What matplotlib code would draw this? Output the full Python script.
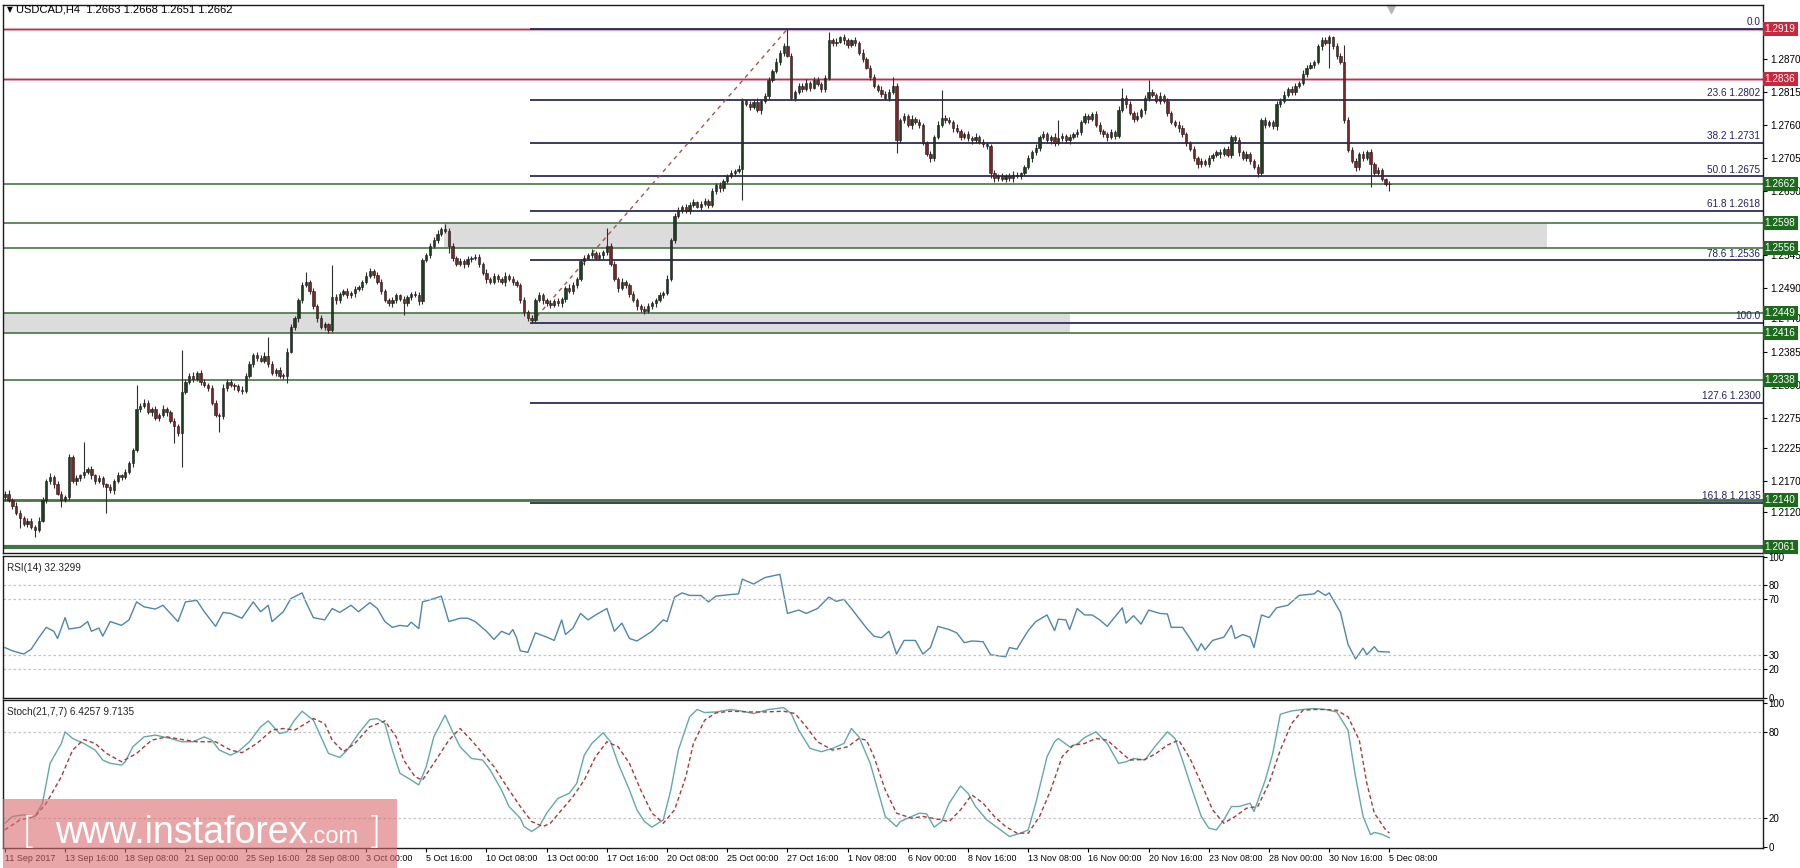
import numpy as np
import matplotlib.pyplot as plt
from matplotlib.patches import Rectangle
from matplotlib.transforms import blended_transform_factory

plt.rcParams['font.family'] = ['Liberation Sans', 'DejaVu Sans']

# === Price data (H4 closes, in pips above 1.2000) ===
first_open = 145
closes = [
    150, 140, 130, 118, 110, 100, 105, 95, 90, 105, 140, 170, 178, 165, 150, 140, 145, 210, 170, 175,
    180, 185, 190, 180, 170, 175, 165, 160, 155, 170, 180, 178, 185, 200, 222, 290, 295, 300, 285, 290,
    275, 280, 290, 285, 270, 262, 250, 318, 335, 345, 340, 350, 335, 330, 325, 300, 280, 278, 325, 335,
    330, 328, 322, 320, 345, 365, 380, 375, 370, 378, 365, 350, 355, 345, 345, 385, 425, 440, 470, 495,
    500, 485, 460, 440, 425, 430, 420, 475, 470, 480, 485, 478, 482, 488, 492, 500, 510, 518, 512, 500,
    485, 470, 465, 470, 478, 472, 465, 475, 480, 478, 468, 536, 545, 560, 570, 580, 588, 585, 560, 540,
    530, 535, 530, 538, 540, 542, 530, 515, 505, 500, 510, 505, 500, 510, 505, 500, 495, 470, 450, 440,
    438, 470, 478, 470, 465, 462, 468, 465, 472, 490, 485, 495, 505, 535, 540, 545, 548, 540, 545, 550,
    560, 530, 505, 490, 500, 495, 480, 470, 460, 455, 452, 460, 465, 470, 478, 482, 505, 570, 610, 620,
    625, 618, 628, 632, 625, 630, 635, 628, 650, 660, 655, 668, 675, 680, 684, 688, 800, 795, 790, 798,
    785, 800, 808, 835, 850, 865, 880, 890, 875, 805, 815, 825, 820, 830, 822, 835, 828, 820, 838, 900,
    895, 898, 905, 900, 892, 900, 895, 880, 870, 855, 840, 825, 818, 812, 805, 815, 825, 735, 768, 775,
    760, 770, 765, 760, 730, 712, 705, 740, 760, 772, 768, 765, 755, 750, 740, 745, 738, 735, 740, 732,
    728, 725, 680, 672, 675, 670, 676, 672, 678, 675, 680, 690, 705, 715, 722, 740, 745, 735, 740, 730,
    738, 742, 735, 740, 745, 748, 765, 775, 770, 778, 760, 750, 745, 740, 748, 742, 785, 805, 795, 780,
    770, 775, 785, 805, 815, 810, 800, 808, 800, 780, 765, 760, 755, 745, 730, 720, 705, 695, 700, 695,
    705, 710, 715, 712, 720, 710, 740, 735, 715, 705, 712, 700, 690, 680, 768, 760, 765, 758, 795, 800,
    810, 820, 815, 825, 830, 845, 855, 860, 865, 890, 900, 895, 905, 890, 875, 864, 768, 719, 700, 690,
    712, 705, 715, 695, 680, 685, 670, 663, 662,
]
wick_up = [
    4, 5, 3, 6, 4, 3, 5, 4, 3, 6, 5, 4, 6, 3, 5, 4, 3, 6, 4, 5,
    3, 50, 4, 5, 3, 6, 4, 3, 5, 4, 6, 3, 5, 4, 3, 40, 5, 6, 4, 3,
    5, 4, 6, 3, 4, 5, 3, 69, 5, 4, 6, 3, 5, 4, 3, 4, 5, 3, 6, 4,
    5, 3, 4, 6, 5, 4, 3, 5, 4, 6, 31, 4, 3, 5, 4, 6, 5, 4, 3, 5,
    17, 4, 5, 3, 6, 4, 3, 53, 5, 4, 3, 6, 4, 5, 3, 4, 6, 5, 3, 4,
    5, 3, 4, 6, 4, 3, 5, 4, 3, 6, 5, 4, 3, 5, 4, 6, 3, 8, 5, 4,
    3, 5, 4, 6, 3, 4, 5, 3, 6, 4, 5, 3, 4, 6, 3, 5, 4, 3, 5, 4,
    6, 3, 5, 4, 3, 6, 4, 5, 3, 4, 6, 5, 3, 4, 5, 3, 6, 4, 5, 3,
    29, 4, 5, 3, 6, 4, 3, 5, 4, 3, 6, 5, 4, 3, 5, 4, 6, 3, 5, 4,
    3, 5, 4, 6, 3, 4, 5, 3, 6, 4, 5, 3, 4, 6, 3, 5, 4, 3, 5, 4,
    6, 3, 5, 4, 3, 6, 4, 5, 29, 4, 3, 5, 4, 6, 3, 5, 4, 3, 5, 14,
    4, 6, 3, 5, 4, 3, 5, 4, 6, 3, 4, 5, 3, 6, 4, 5, 15, 4, 3, 5,
    4, 6, 3, 5, 4, 3, 5, 4, 6, 46, 4, 5, 3, 6, 4, 3, 5, 4, 6, 3,
    5, 4, 3, 6, 4, 5, 3, 4, 6, 5, 3, 4, 5, 3, 6, 4, 5, 3, 4, 6,
    30, 4, 3, 5, 4, 6, 3, 5, 4, 3, 6, 5, 4, 3, 5, 4, 6, 17, 4, 5,
    3, 6, 4, 5, 20, 4, 3, 6, 4, 5, 3, 4, 6, 5, 3, 4, 5, 3, 6, 4,
    5, 3, 4, 6, 3, 5, 4, 3, 6, 4, 5, 3, 4, 6, 3, 5, 4, 3, 5, 4,
    6, 3, 5, 4, 3, 6, 4, 5, 3, 4, 6, 5, 4, 3, 5, 4, 29, 5, 4, 6,
    3, 5, 4, 6, 3, 5, 4, 3, 5,
]
wick_dn = [
    5, 4, 6, 3, 17, 4, 5, 3, 12, 4, 3, 5, 4, 6, 3, 12, 4, 5, 3, 6,
    4, 5, 3, 6, 4, 3, 5, 42, 4, 6, 3, 5, 4, 3, 6, 4, 5, 3, 4, 6,
    3, 5, 4, 6, 3, 28, 5, 56, 4, 3, 5, 4, 6, 3, 5, 4, 3, 26, 4, 5,
    3, 6, 4, 5, 3, 4, 6, 5, 3, 4, 5, 3, 6, 4, 5, 12, 3, 4, 6, 5,
    3, 4, 5, 6, 3, 4, 5, 3, 6, 4, 3, 5, 4, 6, 3, 5, 4, 3, 6, 4,
    5, 3, 4, 6, 5, 3, 19, 4, 5, 3, 6, 4, 3, 5, 4, 6, 3, 4, 12, 5,
    4, 3, 6, 5, 4, 3, 5, 4, 6, 3, 4, 5, 3, 6, 4, 5, 3, 4, 6, 5,
    5, 4, 3, 6, 4, 5, 3, 4, 6, 5, 3, 4, 5, 3, 6, 4, 5, 3, 4, 6,
    5, 3, 4, 6, 3, 5, 4, 3, 6, 4, 5, 3, 4, 6, 3, 5, 4, 3, 5, 4,
    6, 3, 5, 4, 3, 6, 4, 5, 3, 4, 6, 5, 4, 3, 5, 4, 52, 3, 5, 4,
    3, 6, 4, 5, 3, 4, 6, 5, 3, 4, 5, 3, 6, 4, 5, 3, 4, 6, 5, 3,
    4, 5, 3, 6, 4, 3, 5, 4, 6, 3, 5, 4, 3, 6, 4, 5, 3, 21, 4, 5,
    3, 6, 4, 5, 3, 4, 6, 5, 3, 4, 5, 3, 6, 4, 5, 3, 4, 6, 5, 3,
    4, 5, 8, 6, 4, 3, 5, 4, 6, 3, 5, 4, 3, 6, 4, 5, 3, 4, 6, 5,
    3, 4, 5, 6, 3, 4, 5, 3, 6, 4, 3, 5, 4, 6, 3, 5, 4, 3, 6, 4,
    5, 3, 4, 6, 5, 3, 4, 6, 3, 5, 4, 3, 6, 4, 5, 3, 4, 6, 5, 3,
    4, 5, 3, 6, 4, 3, 5, 4, 6, 3, 5, 4, 3, 6, 4, 5, 3, 4, 6, 5,
    3, 4, 5, 6, 3, 4, 5, 3, 6, 4, 5, 3, 40, 4, 6, 3, 5, 4, 3, 6,
    4, 5, 3, 38, 4, 5, 3, 4, 11,
]

# === RSI(14) (bar index, value) ===
rsi_bar = [
    0, 2, 5, 7, 9, 11, 13, 14, 16, 17, 20, 22, 23, 25, 26, 28, 31, 33, 35, 37,
    40, 42, 46, 48, 51, 53, 56, 58, 60, 63, 66, 68, 70, 71, 74, 76, 79, 80, 82, 85,
    87, 89, 92, 94, 97, 99, 101, 103, 105, 107, 108, 110, 111, 114, 116, 118, 121, 123, 125, 127,
    128, 130, 132, 134, 135, 136, 137, 139, 141, 144, 146, 148, 149, 151, 153, 155, 157, 160, 162, 164,
    166, 168, 170, 172, 175, 176, 178, 180, 182, 185, 187, 189, 192, 195, 196, 199, 202, 206, 208, 211,
    213, 216, 219, 221, 223, 225, 227, 229, 231, 233, 235, 237, 239, 242, 244, 246, 248, 251, 253, 255,
    257, 260, 262, 266, 267, 269, 270, 272, 274, 277, 279, 280, 282, 283, 285, 287, 289, 291, 293, 297,
    298, 300, 302, 304, 307, 309, 310, 313, 315, 317, 318, 319, 321, 324, 326, 327, 329, 331, 332, 334,
    336, 338, 341, 342, 344, 348, 349, 351, 352, 355, 357, 359, 361, 362, 364, 365, 368,
]
rsi_val = [
    35.5, 33.2, 30.9, 34.4, 42.5, 49.9, 47.1, 42.0, 56.8, 48.7, 49.9, 54.0, 47.1, 49.4, 43.6, 54.0, 51.3, 55.2, 68.0, 64.5,
    62.9, 65.6, 54.0, 68.0, 69.1, 61.0, 50.6, 60.5, 59.8, 56.4, 68.0, 61.0, 65.6, 54.0, 61.0, 70.3, 74.4, 68.0, 56.8, 55.2,
    63.3, 60.5, 65.6, 61.0, 67.5, 63.3, 54.0, 49.9, 51.3, 50.6, 53.6, 49.0, 68.0, 70.3, 72.1, 54.0, 56.4, 56.4, 54.0, 49.4,
    47.1, 41.3, 47.1, 44.8, 48.3, 42.5, 33.2, 32.1, 46.0, 43.0, 40.6, 55.2, 44.8, 49.4, 59.8, 55.2, 58.7, 63.3, 47.1, 52.9,
    42.0, 40.2, 43.6, 47.1, 55.2, 54.0, 71.4, 74.4, 72.6, 72.6, 68.0, 72.1, 73.0, 73.7, 84.2, 80.7, 85.3, 87.6, 59.8, 62.2,
    59.8, 63.3, 71.4, 68.4, 69.8, 63.3, 56.4, 49.4, 43.6, 42.5, 47.1, 30.9, 40.6, 40.6, 30.9, 35.5, 50.6, 48.3, 46.0, 39.0,
    40.2, 39.7, 30.4, 29.0, 35.5, 34.4, 39.0, 47.6, 54.0, 58.7, 47.6, 55.7, 55.2, 48.3, 63.3, 58.7, 58.7, 55.2, 50.6, 63.8,
    52.9, 58.2, 52.2, 62.2, 59.8, 59.4, 49.9, 49.9, 42.0, 33.2, 38.3, 33.9, 40.6, 42.9, 51.3, 42.0, 44.8, 42.9, 35.5, 58.7,
    56.8, 63.8, 65.6, 68.0, 72.6, 73.7, 76.1, 72.6, 74.4, 60.5, 37.8, 27.4, 35.1, 30.4, 36.2, 32.7, 32.3,
]

# === Stoch(21,7,7) main and signal ===
k_bar = [
    0, 2, 5, 8, 10, 12, 15, 16, 18, 21, 24, 26, 28, 31, 32, 34, 37, 40, 44, 47,
    50, 53, 55, 57, 60, 62, 65, 68, 70, 73, 75, 77, 79, 82, 84, 86, 89, 91, 94, 97,
    99, 101, 103, 105, 108, 110, 112, 114, 117, 119, 121, 124, 127, 129, 132, 134, 137, 138, 140, 142,
    144, 147, 150, 152, 154, 156, 159, 161, 163, 166, 168, 170, 172, 175, 177, 179, 182, 184, 186, 189,
    193, 196, 199, 203, 207, 209, 211, 214, 217, 220, 223, 225, 227, 230, 232, 234, 237,
    238, 241, 243, 245, 247, 249, 251, 254, 256, 258, 261, 264, 267, 270, 272, 274, 277, 279, 280, 283,
    285, 287, 290, 293, 296, 298, 300, 303, 306, 309, 311, 313, 315, 318, 320, 322, 324, 326, 328, 331,
    332, 335, 337, 339, 342, 345, 348, 351, 354, 357, 359, 361, 363, 364, 366, 368,
]
k_val = [
    16.5, 21.2, 22.3, 21.2, 30.4, 58.1, 71.9, 80.0, 75.4, 71.9, 67.3, 60.4, 58.1, 56.9, 59.2, 69.6, 76.5, 77.7, 75.4, 73.1,
    73.1, 76.5, 74.2, 67.3, 63.8, 66.2, 73.1, 83.5, 87.6, 78.8, 80.0, 88.1, 94.3, 88.1, 76.5, 65.0, 62.2, 67.3, 78.8, 88.5,
    89.2, 85.8, 67.3, 51.2, 46.5, 43.1, 55.8, 76.5, 91.5, 80.0, 69.6, 61.5, 60.4, 53.5, 39.6, 28.1, 20.0, 14.2, 10.8, 14.2,
    23.5, 33.8, 37.3, 44.2, 63.8, 71.9, 79.3, 73.1, 58.1, 39.6, 25.8, 17.7, 13.8, 18.8, 39.6, 67.3, 90.4, 95.5, 93.4, 93.8,
    95.5, 94.3, 92.7, 95.5, 96.8, 92.7, 81.2, 68.5, 66.2, 68.5, 71.9, 82.3, 76.5, 58.1, 39.6, 21.2, 14.2,
    17.7, 21.2, 23.5, 23.0, 13.8, 17.7, 30.4, 42.4, 37.3, 28.1, 18.8, 13.1, 7.3, 9.6, 11.9, 30.4, 62.7, 73.1, 75.4, 69.6,
    71.5, 76.1, 80.0, 71.9, 58.1, 59.2, 61.5, 60.4, 70.8, 80.0, 75.4, 60.4, 44.2, 21.2, 13.1, 11.9, 18.8, 28.1, 28.1, 30.4,
    24.6, 46.5, 65.0, 92.2, 94.5, 95.5, 96.2, 95.5, 93.8, 81.2, 48.8, 21.2, 8.5, 10.1, 8.9, 6.4,
]
d_bar = [
    0, 4, 8, 11, 15, 18, 21, 24, 27, 31, 35, 39, 43, 47, 51, 56, 60, 63, 67, 71,
    74, 77, 80, 82, 85, 87, 90, 93, 97, 101, 104, 106, 109, 111, 114, 118, 121, 124, 127, 130,
    134, 137, 140, 143, 145, 148, 151, 154, 157, 160, 163, 166, 169, 172, 175, 178, 181, 183, 186, 189,
    193, 198, 202, 207, 210, 213, 216, 220, 224, 227, 229, 231, 234, 237,
    241, 244, 248, 251, 254, 257, 260, 263, 266, 269, 272, 275, 278, 281, 284, 287, 290, 293, 296, 299,
    303, 306, 309, 312, 315, 318, 321, 324, 327, 330, 333, 336, 339, 342, 345, 348, 351, 354, 357, 360,
    362, 364, 367, 368,
]
d_val = [
    11.9, 18.8, 21.2, 30.4, 48.8, 67.3, 74.7, 71.9, 65.0, 59.2, 65.0, 74.2, 76.5, 74.7, 73.1, 73.1, 67.3, 65.5, 71.9, 81.2,
    82.3, 81.2, 85.8, 89.2, 85.8, 74.2, 66.2, 71.9, 83.5, 87.6, 76.5, 60.4, 48.8, 46.5, 58.1, 74.2, 82.3, 74.2, 65.0, 55.8,
    39.6, 28.1, 17.7, 14.2, 16.5, 25.8, 35.0, 46.5, 62.7, 73.1, 69.6, 58.1, 39.6, 23.5, 16.5, 25.8, 48.8, 71.9, 88.1, 93.2,
    94.3, 93.8, 93.8, 94.3, 92.7, 83.5, 73.1, 67.3, 69.6, 75.4, 74.2, 62.7, 39.6, 23.5,
    20.0, 21.2, 19.3, 17.7, 25.8, 36.2, 30.4, 21.2, 14.2, 9.6, 9.6, 21.2, 39.6, 62.7, 70.8, 71.9, 75.4, 74.2, 67.3, 60.4,
    60.8, 65.0, 70.8, 74.2, 61.5, 44.2, 25.8, 16.5, 21.2, 26.9, 28.1, 44.2, 67.3, 85.8, 95.0, 95.5, 95.5, 95.0, 90.4, 74.2,
    44.2, 23.5, 11.9, 9.7,
]

# === Levels drawn on the chart ===
red_levels = [1.2919, 1.2836]
green_levels = [1.2662, 1.2598, 1.2556, 1.2449, 1.2416, 1.2338, 1.2140, 1.2061]
fib_price = [1.2919, 1.2802, 1.2731, 1.2675, 1.2618, 1.2536, 1.2433, 1.2300, 1.2135]
fib_text = ['0.0', '23.6 1.2802', '38.2 1.2731', '50.0 1.2675', '61.8 1.2618',
            '78.6 1.2536', '100.0', '127.6 1.2300', '161.8 1.2135']
fib_start_bar = 139.5
trend_bars = [140, 208]
trend_prices = [1.2433, 1.2919]
zone_upper = (116.7, 410.0, 1.2556, 1.2598)
zone_lower = (-0.5, 283.1, 1.2416, 1.2449)
price_ticks = [1.2870, 1.2815, 1.2760, 1.2705, 1.2650, 1.2545, 1.2490, 1.2440,
               1.2385, 1.2330, 1.2275, 1.2225, 1.2170, 1.2120]
date_labels = ['11 Sep 2017', '13 Sep 16:00', '18 Sep 08:00', '21 Sep 00:00', '25 Sep 16:00',
               '28 Sep 08:00', '3 Oct 00:00', '5 Oct 16:00', '10 Oct 08:00', '13 Oct 00:00',
               '17 Oct 16:00', '20 Oct 08:00', '25 Oct 00:00', '27 Oct 16:00', '1 Nov 08:00',
               '6 Nov 00:00', '8 Nov 16:00', '13 Nov 08:00', '16 Nov 00:00', '20 Nov 16:00',
               '23 Nov 08:00', '28 Nov 00:00', '30 Nov 16:00', '5 Dec 08:00']
date_bars = list(range(0, 369, 16))

assert len(closes) == len(wick_up) == len(wick_dn) == 369
assert len(rsi_bar) == len(rsi_val) and len(k_bar) == len(k_val) and len(d_bar) == len(d_val)

# === Figure layout (pixel based, 1800x868) ===
W, H = 1800, 868
fig = plt.figure(figsize=(18, 8.68), dpi=100)


def panel(top, bottom):
    return [3 / W, 1 - bottom / H, 1760 / W, (bottom - top) / H]


ax = fig.add_axes(panel(5, 553))
ax_rsi = fig.add_axes(panel(555.5, 697.5), sharex=ax)
ax_st = fig.add_axes(panel(700, 848), sharex=ax)

XMIN, XMAX = -0.5, 467.3
ax.set_xlim(XMIN, XMAX)
ax.set_ylim(1.20515, 1.29587)

# candles
c = 1.2 + np.array(closes) / 10000
o = 1.2 + np.array([first_open] + closes[:-1]) / 10000
hi = np.maximum(o, c) + np.array(wick_up) / 10000
lo = np.minimum(o, c) - np.array(wick_dn) / 10000
bars = np.arange(len(c))
body_col = np.where(c >= o, '#1f3d1f', '#7a2626')
height = np.maximum(np.abs(c - o), 0.00008)
ax.vlines(bars, lo, hi, color='#2e2e2e', lw=0.8, zorder=4)
ax.bar(bars, height, bottom=np.minimum(o, c), width=0.62, color=body_col,
       edgecolor='#1a1a1a', linewidth=0.4, zorder=5)

# shaded zones
for x0, x1, y0, y1 in (zone_upper, zone_lower):
    ax.add_patch(Rectangle((x0, y0), x1 - x0, y1 - y0, fc='#dcdcdc', ec='none', zorder=1))

# horizontal levels
for p in red_levels:
    ax.axhline(p, color='#e8b4c0', lw=2.2, zorder=2)
    ax.axhline(p, color='#b8324e', lw=0.9, zorder=2)
for p in green_levels:
    w = 3.0 if p == 1.2061 else (2.0 if p == 1.2140 else 1.2)
    ax.axhline(p, color='#447544', lw=w, zorder=2)

# fibonacci
tx = blended_transform_factory(ax.transAxes, ax.transData)
for p, t in zip(fib_price, fib_text):
    ax.hlines(p, fib_start_bar, XMAX, color='#2c2c5c', lw=1.3, zorder=3)
    ax.text(0.9985, p + 0.00025, t, transform=tx, ha='right', va='bottom',
            fontsize=7.2, color='#22225a', zorder=6)
ax.plot(trend_bars, trend_prices, color='#a8554f', lw=1, dashes=(3, 3), zorder=3)

# right price axis
ax.yaxis.tick_right()
ax.set_yticks(price_ticks)
ax.set_yticklabels([f'{p:.4f}' for p in price_ticks])
ax.tick_params(axis='y', labelsize=7.2, length=3, pad=2, direction='out')
ax.tick_params(axis='x', bottom=False, labelbottom=False)

for p in red_levels:
    ax.text(1.001, p, f'{p:.4f}', transform=tx, ha='left', va='center', fontsize=7.2,
            color='white', zorder=10, clip_on=False,
            bbox=dict(boxstyle='square,pad=0.2', fc='#c8283e', ec='none'))
for p in green_levels:
    ax.text(1.001, p, f'{p:.4f}', transform=tx, ha='left', va='center', fontsize=7.2,
            color='white', zorder=10, clip_on=False,
            bbox=dict(boxstyle='square,pad=0.2', fc='#1c6a1c', ec='none'))

ax.plot([368.4], [0.992], marker='v', ms=6, color='#b5b5b5', clip_on=False,
        transform=blended_transform_factory(ax.transData, ax.transAxes))

# RSI panel
ax_rsi.plot(rsi_bar, rsi_val, color='#4f86aa', lw=1.0)
ax_rsi.set_ylim(0, 101)
for lv in (20, 30, 70, 80):
    ax_rsi.axhline(lv, color='#c4c4c4', lw=0.9, ls=(0, (2, 2)))
ax_rsi.yaxis.tick_right()
ax_rsi.set_yticks([0, 20, 30, 70, 80, 100])
ax_rsi.tick_params(axis='y', labelsize=7, length=3, pad=1)
ax_rsi.tick_params(axis='x', bottom=False, labelbottom=False)
ax_rsi.text(0.002, 0.95, 'RSI(14) 32.3299', transform=ax_rsi.transAxes, va='top',
            fontsize=7.2, color='#222222')

# Stochastic panel
ax_st.plot(k_bar, k_val, color='#62aaa6', lw=1.0, zorder=3)
ax_st.plot(d_bar, d_val, color='#a83a3a', lw=1.0, dashes=(3, 2), zorder=3)
ax_st.set_ylim(-0.7, 102.1)
for lv in (20, 80):
    ax_st.axhline(lv, color='#c4c4c4', lw=0.9, ls=(0, (2, 2)))
ax_st.yaxis.tick_right()
ax_st.set_yticks([0, 20, 80, 100])
ax_st.tick_params(axis='y', labelsize=7, length=3, pad=1)
ax_st.set_xticks(date_bars)
ax_st.set_xticklabels(date_labels, ha='left')
ax_st.tick_params(axis='x', labelsize=6.4, length=3, pad=1)
ax_st.text(0.002, 0.95, 'Stoch(21,7,7) 6.4257 9.7135', transform=ax_st.transAxes, va='top',
           fontsize=7.2, color='#222222')

for a in (ax, ax_rsi, ax_st):
    for s in a.spines.values():
        s.set_color('#1a1a1a')
        s.set_linewidth(1.0)

# header
fig.text(7 / W, 1 - 10 / H, '\u25bc', fontsize=5.5, va='center', family='DejaVu Sans')
fig.text(16 / W, 1 - 10 / H, 'USDCAD,H4  1.2663 1.2668 1.2651 1.2662', fontsize=8, va='center')

# watermark
fig.add_artist(Rectangle((3 / W, 0), 394 / W, 69 / H, transform=fig.transFigure,
                         fc='#d96b6e', ec='none', alpha=0.6, zorder=5))
fig.text(22 / W, 1 - 843 / H, '[', fontsize=27, color='white', zorder=6, family='DejaVu Sans',
         fontweight='light')
fig.text(55 / W, 1 - 843 / H, 'www.instaforex', fontsize=27, color='white', zorder=6,
         family='Liberation Sans')
fig.text(308 / W, 1 - 843 / H, '.com', fontsize=17, color='white', zorder=6,
         family='Liberation Sans')
fig.text(367 / W, 1 - 843 / H, ']', fontsize=27, color='white', zorder=6, family='DejaVu Sans',
         fontweight='light')

fig.savefig('out.png', dpi=100, facecolor='white')
